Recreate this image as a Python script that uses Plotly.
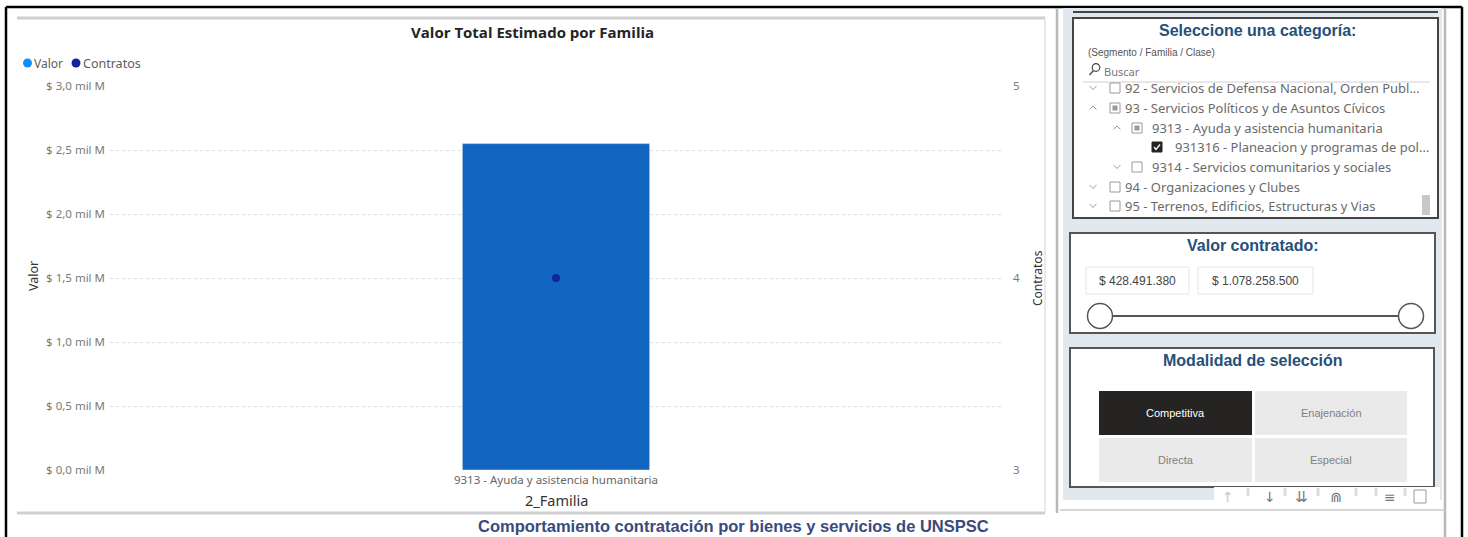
import plotly.graph_objects as go

# ---------------- data ----------------
categories = ["9313 - Ayuda y asistencia humanitaria"]
valor = [2.55e9]
contratos = [4]
y_tickvals = [0, 0.5e9, 1.0e9, 1.5e9, 2.0e9, 2.5e9, 3.0e9]
y_ticktext = ["$ 0,0 mil M", "$ 0,5 mil M", "$ 1,0 mil M", "$ 1,5 mil M",
              "$ 2,0 mil M", "$ 2,5 mil M", "$ 3,0 mil M"]
y2_tickvals = [3, 4, 5]

tree_items = [
    ("92 - Servicios de Defensa Nacional, Orden Publ...", 0, "down", "empty"),
    ("93 - Servicios Políticos y de Asuntos Cívicos", 0, "up", "partial"),
    ("9313 - Ayuda y asistencia humanitaria", 1, "up", "partial"),
    ("931316 - Planeacion y programas de pol...", 2, None, "checked"),
    ("9314 - Servicios comunitarios y sociales", 1, "down", "empty"),
    ("94 - Organizaciones y Clubes", 0, "down", "empty"),
    ("95 - Terrenos, Edificios, Estructuras y Vias", 0, "down", "empty"),
]
range_values = ["$ 428.491.380", "$ 1.078.258.500"]
modalidades = ["Competitiva", "Enajenación", "Directa", "Especial"]

W, H = 1468, 537
def X(p): return p / W
def Y(p): return 1 - p / H

shapes = []
annots = []

def rect(x0, y0, x1, y1, fill="rgba(0,0,0,0)", line="rgba(0,0,0,0)", lw=0):
    shapes.append(dict(type="rect", xref="paper", yref="paper",
                       x0=X(x0), x1=X(x1), y0=Y(y1), y1=Y(y0),
                       fillcolor=fill, line=dict(color=line, width=lw)))

def line(x0, y0, x1, y1, color, lw):
    shapes.append(dict(type="line", xref="paper", yref="paper",
                       x0=X(x0), x1=X(x1), y0=Y(y0), y1=Y(y1),
                       line=dict(color=color, width=lw)))

def circle(cx, cy, r, fill, color="rgba(0,0,0,0)", lw=0):
    shapes.append(dict(type="circle", xref="paper", yref="paper",
                       x0=X(cx - r), x1=X(cx + r), y0=Y(cy + r), y1=Y(cy - r),
                       fillcolor=fill, line=dict(color=color, width=lw)))

def path(pts, color, lw):
    d = "M " + " L ".join(f"{X(a):.5f},{Y(b):.5f}" for a, b in pts)
    shapes.append(dict(type="path", xref="paper", yref="paper", path=d,
                       line=dict(color=color, width=lw)))

def text(x, y, s, size, color, family="Noto Sans", anchor="left", angle=0):
    annots.append(dict(x=X(x), y=Y(y), xref="paper", yref="paper", text=s,
                       showarrow=False, xanchor=anchor, yanchor="middle",
                       textangle=angle, font=dict(size=size, color=color, family=family)))

# ---------------- chart ----------------
fig = go.Figure()
fig.add_trace(go.Bar(x=categories, y=valor, name="Valor", marker_color="#1266C1",
                     yaxis="y", showlegend=False))
fig.add_trace(go.Scatter(x=categories, y=contratos, name="Contratos", mode="markers",
                         marker=dict(color="#12239E", size=8), yaxis="y2", showlegend=False))

# outer frame
line(6, 7, 1462, 7, "#000000", 2.5)
line(6, 7, 6, 537, "#000000", 2.5)
line(1462, 7, 1462, 537, "#000000", 2.5)
# chart visual borders
line(17, 18, 1045, 18, "#CFCFCF", 3)
line(17, 513, 1045, 513, "#CFCFCF", 3)
line(1045, 18, 1045, 513, "#E2E2E2", 1.5)

# title, legend, axis titles
text(532, 32, "<b>Valor Total Estimado por Familia</b>", 15, "#252423", "Open Sans", "center")
circle(27.5, 63, 4.5, "#118DFF")
text(32, 63, "Valor", 12, "#605E5C")
circle(76, 63, 4.5, "#12239E")
text(81, 63, "Contratos", 12.5, "#605E5C")
text(33, 276, "Valor", 12.5, "#333333", "Noto Sans", "center", -90)
text(1037, 278, "Contratos", 12, "#333333", "Noto Sans", "center", -90)
text(556, 500, "2_Familia", 14.5, "#333333", "Noto Sans", "center")
text(733, 526, "<b>Comportamiento contratación por bienes y servicios de UNSPSC</b>",
     16.5, "#3A4A7C", "Liberation Sans", "center")

# ---------------- right panel ----------------
rect(1063, 8, 1442, 500, fill="#E1E8F0")
line(1057, 8, 1057, 513, "#B8B8B8", 2.5)
line(1445, 8, 1445, 537, "#B8B8B8", 2.5)
line(1060, 510, 1445, 510, "#C8C8C8", 1.5)
line(1073, 12, 1438, 12, "#444444", 2)

# box 1: category tree
rect(1073, 18, 1438, 218, fill="#FFFFFF", line="#444444", lw=2)
text(1257, 31, "<b>Seleccione una categoría:</b>", 16, "#24507A", "Liberation Sans", "center")
text(1086, 52, "(Segmento / Familia / Clase)", 10, "#555555", "Liberation Sans")
circle(1096, 67.5, 3.8, "rgba(0,0,0,0)", "#444444", 1.2)
line(1093.5, 70.5, 1089.5, 75, "#444444", 1.3)
text(1102, 72, "Buscar", 11, "#777777")
line(1083, 82, 1430, 82, "#D0D0D0", 1)
row_y = [88, 108, 128, 147, 167, 187, 206]
chev_x = {0: 1093, 1: 1117}
box_x = {0: 1115, 1: 1137, 2: 1157}
txt_x = {0: 1123, 1: 1150, 2: 1173}
for (label, lvl, chev, state), yy in zip(tree_items, row_y):
    if chev == "down":
        cx = chev_x[lvl]
        path([(cx - 3.5, yy - 2), (cx, yy + 1.5), (cx + 3.5, yy - 2)], "#999999", 1)
    elif chev == "up":
        cx = chev_x[lvl]
        path([(cx - 3.5, yy + 1.5), (cx, yy - 2), (cx + 3.5, yy + 1.5)], "#999999", 1)
    bx = box_x[lvl]
    if state == "checked":
        rect(bx - 5, yy - 5, bx + 5, yy + 5, fill="#252423", line="#252423", lw=1)
        path([(bx - 3, yy), (bx - 1, yy + 2.5), (bx + 3, yy - 2.5)], "#FFFFFF", 1.3)
    else:
        rect(bx - 5, yy - 5, bx + 5, yy + 5, fill="#FFFFFF", line="#9A9A9A", lw=1)
        if state == "partial":
            rect(bx - 2.5, yy - 2.5, bx + 2.5, yy + 2.5, fill="#9A9A9A")
    text(txt_x[lvl], yy, label, 13, "#6A6A6A", "Noto Sans")
rect(1422, 195, 1430, 215, fill="#C8C8C8")

# box 2: value slider
rect(1070, 233, 1435, 333, fill="#FFFFFF", line="#555555", lw=2)
text(1253, 245, "<b>Valor contratado:</b>", 16, "#24507A", "Liberation Sans", "center")
rect(1086, 267, 1189, 294, fill="#FFFFFF", line="#E6E6E6", lw=1)
text(1137.5, 280.5, range_values[0], 12, "#444444", "Liberation Sans", "center")
rect(1198, 267, 1313, 294, fill="#FFFFFF", line="#E6E6E6", lw=1)
text(1255.5, 280.5, range_values[1], 12, "#444444", "Liberation Sans", "center")
line(1112, 316, 1399, 316, "#555555", 2)
circle(1100, 316, 12.5, "#FFFFFF", "#555555", 1.5)
circle(1411, 316, 12.5, "#FFFFFF", "#555555", 1.5)

# box 3: modalidad buttons
rect(1070, 348, 1434, 487, fill="#FFFFFF", line="#555555", lw=2)
text(1253, 360, "<b>Modalidad de selección</b>", 16, "#24507A", "Liberation Sans", "center")
btns = [(1099, 391, 1252, 435), (1255, 391, 1407, 435),
        (1099, 438, 1252, 482), (1255, 438, 1407, 482)]
for i, (name, (x0, y0, x1, y1)) in enumerate(zip(modalidades, btns)):
    sel = i == 0
    rect(x0, y0, x1, y1, fill="#252423" if sel else "#EAEAEA")
    text((x0 + x1) / 2, (y0 + y1) / 2, name, 11, "#FFFFFF" if sel else "#808080",
         "Liberation Sans", "center")

# toolbar
rect(1214, 487, 1440, 509, fill="#FFFFFF")
for sx in [1248, 1285, 1318, 1356, 1376, 1405]:
    line(sx, 488, sx, 496, "#DDDDDD", 3)
text(1228, 497, "↑", 14, "#C8C8C8", "DejaVu Sans", "center")
text(1270, 497, "↓", 14, "#777777", "DejaVu Sans", "center")
text(1301, 497, "⇊", 15, "#777777", "DejaVu Sans", "center")
text(1336, 497, "⋒", 14, "#777777", "DejaVu Sans", "center")
text(1390, 497, "≡", 14, "#777777", "DejaVu Sans", "center")
rect(1414, 490, 1426, 503, line="#999999", lw=1)

fig.update_layout(
    width=W, height=H, autosize=False,
    margin=dict(l=0, r=0, t=0, b=0, pad=0, autoexpand=False),
    paper_bgcolor="#FFFFFF", plot_bgcolor="#FFFFFF",
    bargap=0.79,
    showlegend=False,
    font=dict(family="Noto Sans", color="#777777"),
    xaxis=dict(domain=[X(110), X(1002)], showgrid=False, showline=False, zeroline=False,
               automargin=False,
               tickfont=dict(size=11.5, color="#666666"), ticks="", ticklabelstandoff=1),
    yaxis=dict(domain=[Y(470), Y(86)], range=[0, 3.0e9], tickvals=y_tickvals,
               ticktext=y_ticktext, showgrid=True, gridcolor="#DDDDDD", griddash="dot",
               gridwidth=1, zeroline=False, showline=False, automargin=False,
               tickfont=dict(size=11.5, color="#7A7A7A"), ticklabelstandoff=4),
    yaxis2=dict(overlaying="y", side="right", range=[3, 5], tickvals=y2_tickvals,
                showgrid=False, zeroline=False, showline=False, automargin=False,
                tickfont=dict(size=11.5, color="#7A7A7A"), ticklabelstandoff=10),
    shapes=shapes,
    annotations=annots,
)

post = ("document.documentElement.style.margin='0';"
        "document.documentElement.style.overflow='hidden';"
        "document.body.style.margin='0';document.body.style.padding='0';"
        "document.body.style.overflow='hidden';")

fig.write_html("out.html", config={"displayModeBar": False}, post_script=post)
